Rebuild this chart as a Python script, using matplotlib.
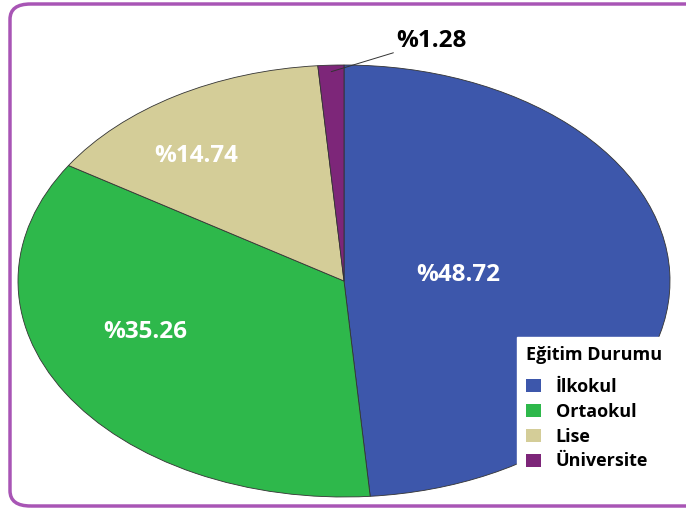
import numpy as np
import matplotlib.pyplot as plt
from matplotlib.patches import FancyBboxPatch

plt.rcParams['font.family'] = ['Open Sans', 'DejaVu Sans']

# Данные
categories = ['İlkokul', 'Ortaokul', 'Lise', 'Üniversite']
shares = [48.72, 35.26, 14.74, 1.28]
colors = ['#3D57AB', '#2EB84B', '#D4CD98', '#7D2679']

fig = plt.figure(figsize=(6.86, 5.09), dpi=100)
W, H = 686, 509

# Рамка вокруг диаграммы
frame = FancyBboxPatch((10 / W, 3 / H), 700 / W, 502 / H,
                       boxstyle="round,pad=0,rounding_size=0.03",
                       transform=fig.transFigure, facecolor='none',
                       edgecolor='#A855B5', lw=2.5, zorder=5)
fig.patches.append(frame)

# Эллиптическая круговая диаграмма (растянутая по горизонтали)
ax = fig.add_axes([18 / W, 1 - 497 / H, 652 / W, 432 / H])
wedges, _ = ax.pie(shares, colors=colors, startangle=90, counterclock=False,
                   wedgeprops=dict(edgecolor='#333333', linewidth=0.6))
ax.set_aspect('auto')
ax.set_xlim(-1, 1)
ax.set_ylim(-1, 1)

# Подписи процентов внутри секторов
label_pos = [(0.35, 0.03), (-0.61, -0.236), (-0.454, 0.58)]
for val, (x, y) in zip(shares[:3], label_pos):
    ax.text(x, y, f"%{val:.2f}", color='white', fontsize=17.5, fontweight='bold',
            ha='center', va='center')

# Подпись маленького сектора с выноской
w = wedges[3]
mid = np.deg2rad((w.theta1 + w.theta2) / 2)
ax.annotate(f"%{shares[3]:.2f}", xy=(0.97 * np.cos(mid), 0.97 * np.sin(mid)),
            xytext=(0.16, 1.11), fontsize=17.5, fontweight='bold', color='black',
            ha='left', va='center', annotation_clip=False,
            arrowprops=dict(arrowstyle='-', color='#333333', lw=0.7,
                            shrinkA=0, shrinkB=0))

# Легенда
leg = fig.legend(wedges, categories, title='Eğitim Durumu',
                 loc='upper left', bbox_to_anchor=(517 / W, 1 - 337 / H),
                 borderaxespad=0,
                 frameon=True, fancybox=False, framealpha=1,
                 edgecolor='white', facecolor='white',
                 prop=dict(weight='bold', size=13),
                 title_fontproperties=dict(weight='bold', size=13),
                 handlelength=0.85, handleheight=0.75, handletextpad=0.8,
                 labelspacing=0.38, borderpad=0.5)
leg._legend_box.align = 'left'
leg._legend_box.sep = 10
for h in leg.legend_handles:
    h.set_edgecolor('none')

fig.savefig('out.png', dpi=100)
